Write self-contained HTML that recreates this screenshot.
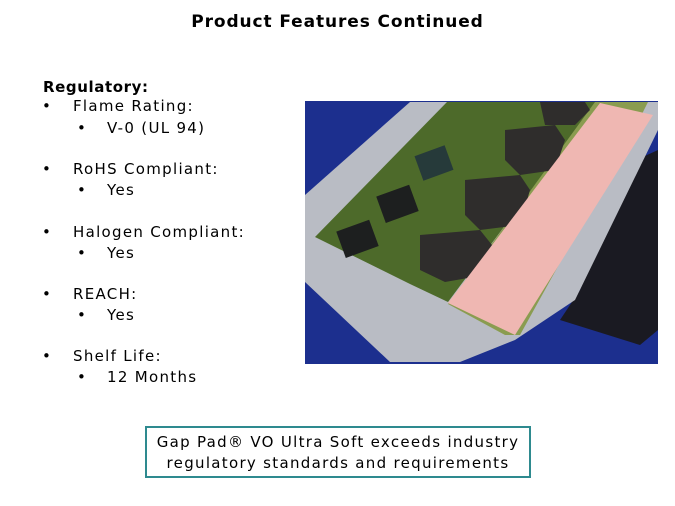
<!DOCTYPE html>
<html><head><style>
body{margin:0;width:675px;height:506px;background:#fff;position:relative;font-family:"DejaVu Sans","Liberation Sans",sans-serif;color:#000;overflow:hidden}
.t{position:absolute;white-space:nowrap;font-size:15px;line-height:18px;letter-spacing:1.3px}
</style></head><body>
<div class="t" style="left:0;width:675px;text-align:center;top:12px;font-weight:bold;font-size:17px;line-height:20px;letter-spacing:0.9px">Product Features Continued</div>
<div class="t" style="left:43px;top:78px;font-weight:bold;letter-spacing:0.6px">Regulatory:</div>
<div class="t" style="left:42px;top:97px">•</div><div class="t" style="left:73px;top:97px">Flame Rating:</div>
<div class="t" style="left:77px;top:119px">•</div><div class="t" style="left:107px;top:119px">V-0 (UL 94)</div>
<div class="t" style="left:42px;top:160px">•</div><div class="t" style="left:73px;top:160px">RoHS Compliant:</div>
<div class="t" style="left:77px;top:181px">•</div><div class="t" style="left:107px;top:181px">Yes</div>
<div class="t" style="left:42px;top:223px">•</div><div class="t" style="left:73px;top:223px">Halogen Compliant:</div>
<div class="t" style="left:77px;top:244px">•</div><div class="t" style="left:107px;top:244px">Yes</div>
<div class="t" style="left:42px;top:285px">•</div><div class="t" style="left:73px;top:285px">REACH:</div>
<div class="t" style="left:77px;top:306px">•</div><div class="t" style="left:107px;top:306px">Yes</div>
<div class="t" style="left:42px;top:347px">•</div><div class="t" style="left:73px;top:347px">Shelf Life:</div>
<div class="t" style="left:77px;top:368px">•</div><div class="t" style="left:107px;top:368px">12 Months</div>
<svg style="position:absolute;left:0;top:0" width="675" height="506">
<rect x="305" y="101" width="353" height="263" fill="#1c2f8e"/>
<polygon points="625,165 658,150 658,330 640,345 560,320 580,290" fill="#1a1a22"/>
<polygon points="305,195 410,102 658,102 658,130 575,300 515,340 460,362 390,362 305,282" fill="#b9bcc4"/>
<polygon points="315,237 447,102 597,102 448,302 410,284" fill="#4d6a2a"/>
<polygon points="595,102 648,102 640,118 520,335 505,335 448,304" fill="#8a9c50"/>
<polygon points="420,235 480,230 492,245 485,275 445,282 420,270" fill="#2f2d2c"/>
<polygon points="465,180 520,175 530,190 520,225 480,230 465,215" fill="#2f2d2c"/>
<polygon points="505,130 555,125 565,140 555,170 520,175 505,160" fill="#2f2d2c"/>
<polygon points="540,102 585,102 590,110 575,125 545,125" fill="#2f2d2c"/>
<rect x="340" y="225" width="35" height="28" fill="#1d1f1f" transform="rotate(-20 357 239)"/>
<rect x="380" y="190" width="35" height="28" fill="#1d1f1f" transform="rotate(-20 397 204)"/>
<rect x="418" y="150" width="32" height="26" fill="#263a3a" transform="rotate(-20 434 163)"/>
<polygon points="600,103 653,115 515,335 448,303" fill="#efb7b2"/>
</svg>
<div style="position:absolute;left:145px;top:426px;width:382px;height:48px;border:2px solid #2e8a8f"></div>
<div class="t" style="left:145px;width:386px;text-align:center;top:432px;line-height:21px">Gap Pad® VO Ultra Soft exceeds industry<br>regulatory standards and requirements</div>
</body></html>
